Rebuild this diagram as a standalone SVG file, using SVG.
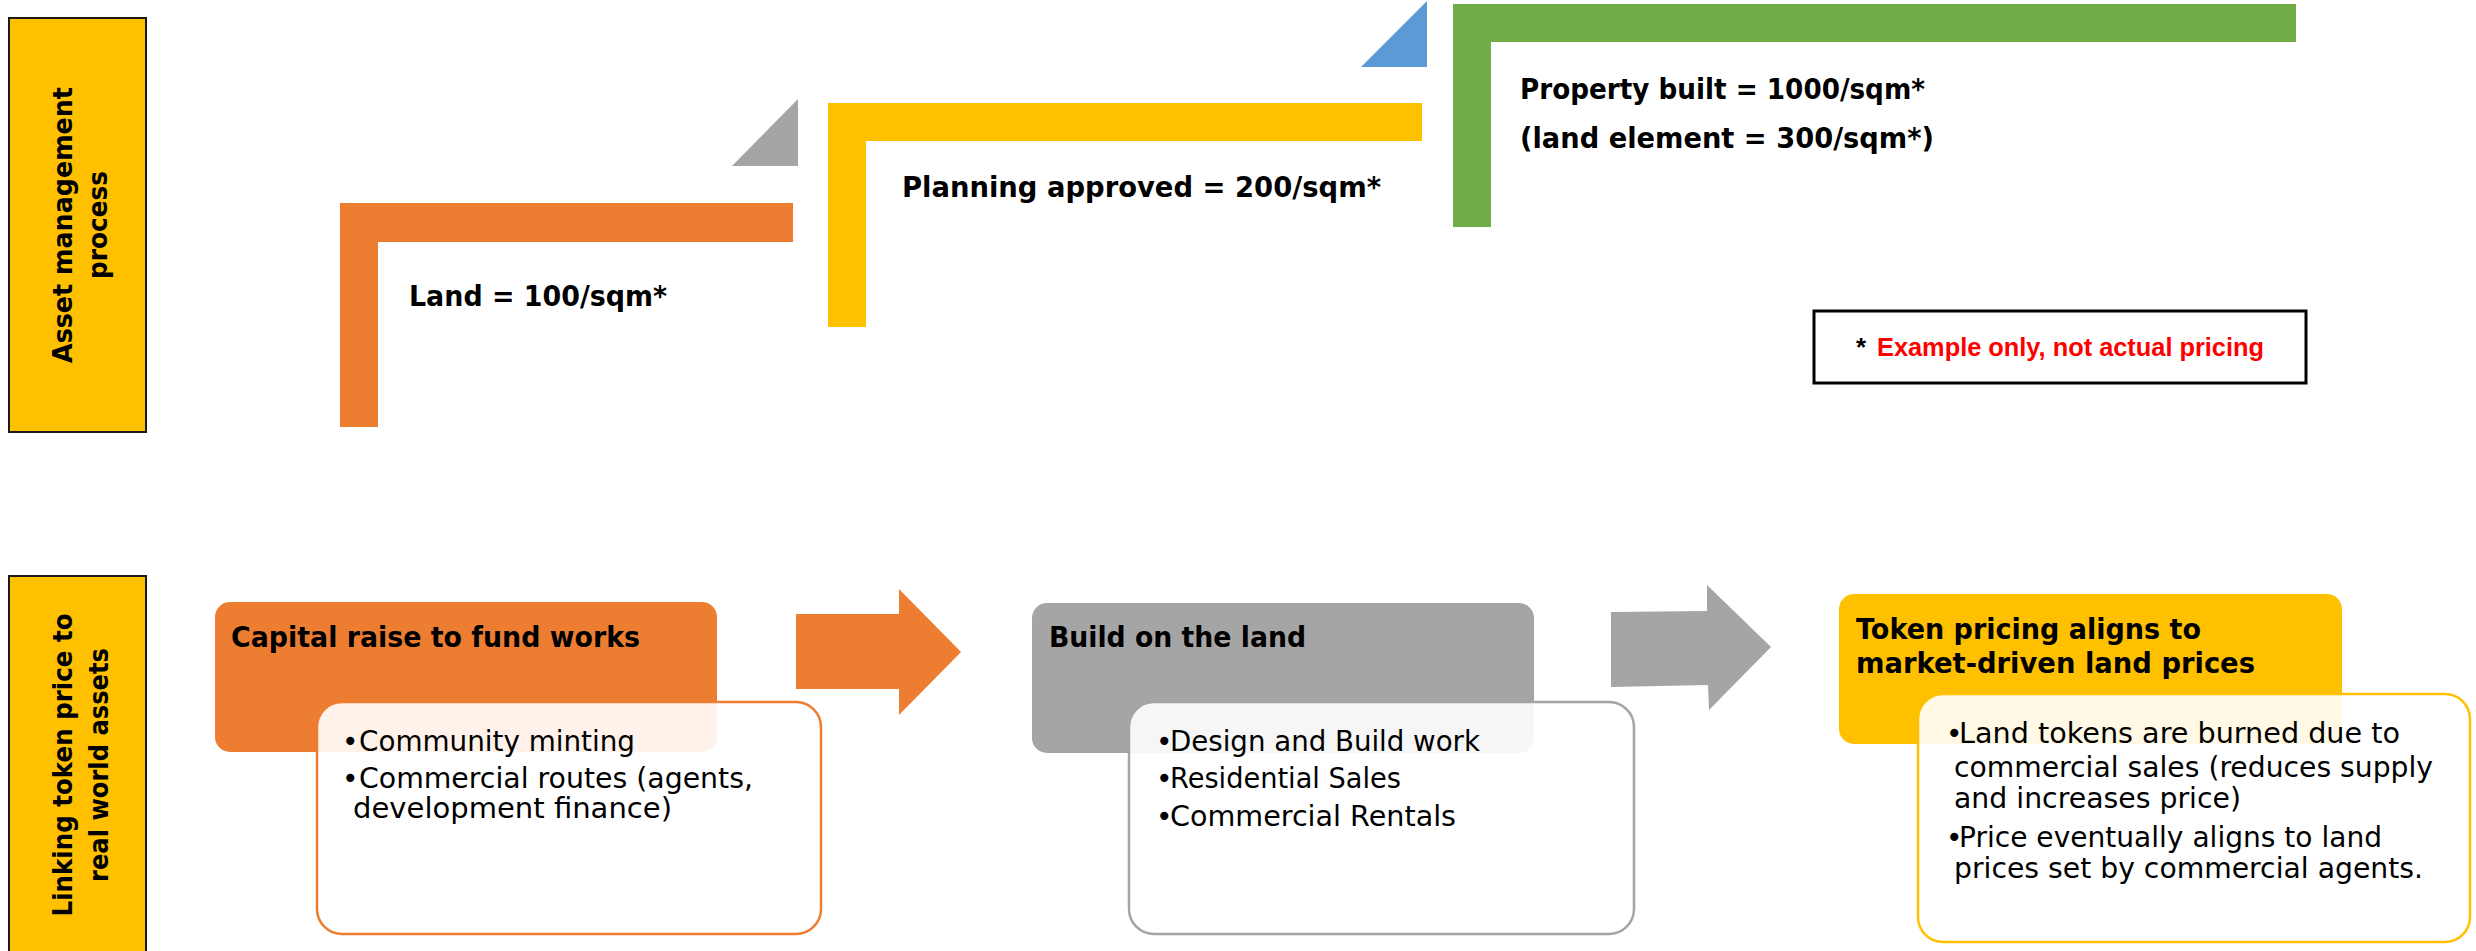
<svg xmlns="http://www.w3.org/2000/svg" width="2476" height="951" viewBox="0 0 2476 951">
  <style>
    .bg { fill: #ffffff; }
    .lane { fill: #FFC000; stroke: #1a1a1a; stroke-width: 2; }
    .lane-text { font-family: "DejaVu Sans", "Liberation Sans", sans-serif; font-weight: bold; font-size: 27px; fill: #000; }
    .step-text { font-family: "DejaVu Sans", "Liberation Sans", sans-serif; font-weight: bold; font-size: 28px; fill: #000; }
    .head-text { font-family: "DejaVu Sans", "Liberation Sans", sans-serif; font-weight: bold; font-size: 28px; fill: #000; }
    .body-text { font-family: "DejaVu Sans", "Liberation Sans", sans-serif; font-size: 28px; fill: #000; }
    .note-text { font-family: "Liberation Sans", Arial, sans-serif; font-weight: bold; font-size: 26px; }
    .card { fill: #ffffff; fill-opacity: 0.9; stroke-width: 2.5; }
  </style>

  <rect class="bg" x="0" y="0" width="2476" height="951"/>

  <!-- Row labels -->
  <g id="lane-asset-management">
    <rect class="lane" x="9" y="18" width="137" height="414"/>
    <g transform="translate(72,225) rotate(-90)">
      <text class="lane-text" x="0" y="0" text-anchor="middle" textLength="276" lengthAdjust="spacingAndGlyphs">Asset management</text>
      <text class="lane-text" x="0" y="35" text-anchor="middle" textLength="108" lengthAdjust="spacingAndGlyphs">process</text>
    </g>
  </g>

  <g id="lane-token-price">
    <rect class="lane" x="9" y="576" width="137" height="390"/>
    <g transform="translate(72,765) rotate(-90)">
      <text class="lane-text" x="0" y="0" text-anchor="middle" textLength="303" lengthAdjust="spacingAndGlyphs">Linking token price to</text>
      <text class="lane-text" x="0" y="36" text-anchor="middle" textLength="234" lengthAdjust="spacingAndGlyphs">real world assets</text>
    </g>
  </g>

  <!-- Value steps -->
  <g id="step-land">
    <path d="M340,203 H793 V242 H378 V427 H340 Z" fill="#ED7D31"/>
    <text class="step-text" x="409" y="306" textLength="258" lengthAdjust="spacingAndGlyphs">Land = 100/sqm*</text>
  </g>

  <g id="step-planning">
    <path d="M828,103 H1422 V141 H866 V327 H828 Z" fill="#FFC000"/>
    <text class="step-text" x="902" y="197" textLength="479" lengthAdjust="spacingAndGlyphs">Planning approved = 200/sqm*</text>
  </g>

  <g id="step-property">
    <path d="M1453,4 H2296 V42 H1491 V227 H1453 Z" fill="#70AD47"/>
    <text class="step-text" x="1520" y="99" textLength="405" lengthAdjust="spacingAndGlyphs">Property built = 1000/sqm*</text>
    <text class="step-text" x="1520" y="148" textLength="414" lengthAdjust="spacingAndGlyphs">(land element = 300/sqm*)</text>
  </g>

  <g id="note">
    <rect x="1814" y="311" width="492" height="72" fill="#ffffff" stroke="#000" stroke-width="3"/>
    <text class="note-text" x="1856" y="356" fill="#000">*</text>
    <text class="note-text" x="1877" y="356" fill="#FF0000" textLength="387" lengthAdjust="spacingAndGlyphs">Example only, not actual pricing</text>
  </g>

  <!-- Process cards -->
  <g id="card-capital">
    <rect x="215" y="602" width="502" height="150" rx="15" fill="#ED7D31"/>
    <text class="head-text" x="231" y="647" textLength="409" lengthAdjust="spacingAndGlyphs">Capital raise to fund works</text>
    <rect class="card" x="317" y="702" width="504" height="232" rx="25" stroke="#ED7D31"/>
    <text class="body-text" x="342" y="751">•</text>
    <text class="body-text" x="359" y="751" textLength="276" lengthAdjust="spacingAndGlyphs">Community minting</text>
    <text class="body-text" x="342" y="788">•</text>
    <text class="body-text" x="359" y="788" textLength="394" lengthAdjust="spacingAndGlyphs">Commercial routes (agents,</text>
    <text class="body-text" x="353" y="818" textLength="319" lengthAdjust="spacingAndGlyphs">development finance)</text>
  </g>

  <g id="card-build">
    <rect x="1032" y="603" width="502" height="150" rx="15" fill="#A5A5A5"/>
    <text class="head-text" x="1049" y="647" textLength="257" lengthAdjust="spacingAndGlyphs">Build on the land</text>
    <rect class="card" x="1129" y="702" width="505" height="232" rx="25" stroke="#A5A5A5"/>
    <text class="body-text" x="1156" y="751">•</text>
    <text class="body-text" x="1170" y="751" textLength="310" lengthAdjust="spacingAndGlyphs">Design and Build work</text>
    <text class="body-text" x="1156" y="788">•</text>
    <text class="body-text" x="1170" y="788" textLength="231" lengthAdjust="spacingAndGlyphs">Residential Sales</text>
    <text class="body-text" x="1156" y="826">•</text>
    <text class="body-text" x="1170" y="826" textLength="286" lengthAdjust="spacingAndGlyphs">Commercial Rentals</text>
  </g>

  <g id="card-pricing">
    <rect x="1839" y="594" width="503" height="150" rx="15" fill="#FFC000"/>
    <text class="head-text" x="1856" y="639" textLength="345" lengthAdjust="spacingAndGlyphs">Token pricing aligns to</text>
    <text class="head-text" x="1856" y="673" textLength="399" lengthAdjust="spacingAndGlyphs">market-driven land prices</text>
    <rect class="card" x="1918" y="694" width="552" height="248" rx="25" stroke="#FFC000"/>
    <text class="body-text" x="1946" y="743">•</text>
    <text class="body-text" x="1959" y="743" textLength="441" lengthAdjust="spacingAndGlyphs">Land tokens are burned due to</text>
    <text class="body-text" x="1954" y="777" textLength="479" lengthAdjust="spacingAndGlyphs">commercial sales (reduces supply</text>
    <text class="body-text" x="1954" y="808" textLength="287" lengthAdjust="spacingAndGlyphs">and increases price)</text>
    <text class="body-text" x="1946" y="847">•</text>
    <text class="body-text" x="1959" y="847" textLength="423" lengthAdjust="spacingAndGlyphs">Price eventually aligns to land</text>
    <text class="body-text" x="1954" y="878" textLength="469" lengthAdjust="spacingAndGlyphs">prices set by commercial agents.</text>
  </g>

  <!-- Connectors: step markers and block arrows -->
  <g id="connectors">
    <polygon points="798,99 732,166 798,166" fill="#A5A5A5"/>
    <polygon points="1427,1 1361,67 1427,67" fill="#5B9BD5"/>
    <polygon points="796,614 899,614 899,589 961,652 899,715 899,689 796,689" fill="#ED7D31"/>
    <polygon points="1611,612 1707,611 1707,585 1771,647 1709,710 1708,685 1611,687" fill="#A5A5A5"/>
  </g>
</svg>
